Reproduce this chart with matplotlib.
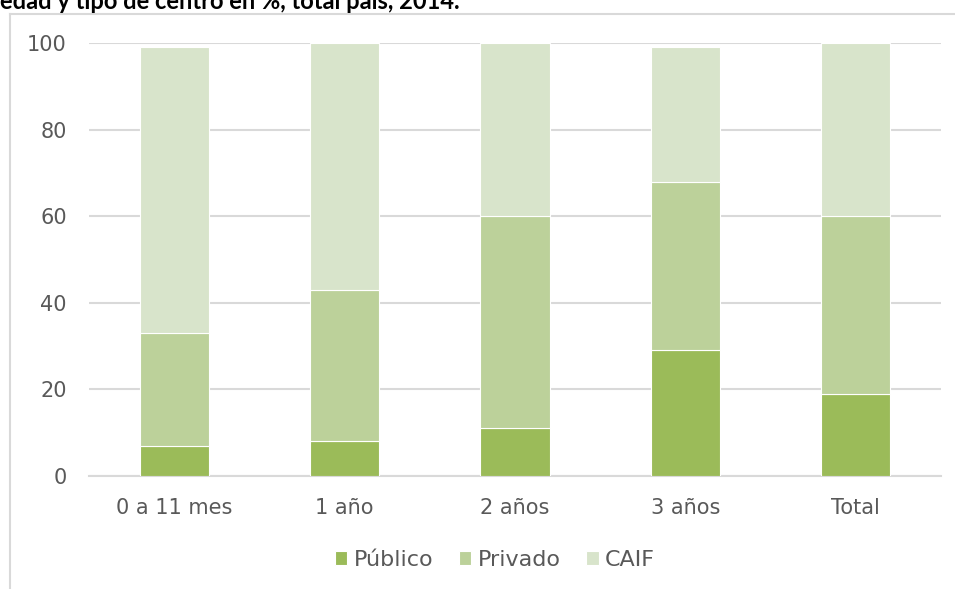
import matplotlib as mpl
mpl.use("Agg")
import matplotlib.pyplot as plt
from matplotlib.lines import Line2D
import numpy as np

categories = ["0 a 11 mes", "1 año", "2 años", "3 años", "Total"]
publico = [7, 8, 11, 29, 19]
privado = [26, 35, 49, 39, 41]
caif = [66, 57, 40, 31, 40]
series_names = ["Público", "Privado", "CAIF"]
colors = ["#9BBB59", "#BCD19A", "#D8E4CB"]
yticks = [0, 20, 40, 60, 80, 100]

plt.rcParams["font.family"] = ["DejaVu Sans"]
TXT = "#595959"

fig = plt.figure(figsize=(9.55, 5.89), dpi=100)
ax = fig.add_axes([89 / 955, 1 - 476 / 589, 852 / 955, 433 / 589])

x = np.arange(len(categories))
bottom = np.zeros(len(categories))
for name, vals, c in zip(series_names, [publico, privado, caif], colors):
    ax.bar(x, vals, 0.405, bottom=bottom, color=c, edgecolor="white", linewidth=0.8,
           label=name, zorder=3)
    bottom += np.array(vals)

ax.set_xlim(-0.5, len(categories) - 0.5)
ax.set_ylim(0, 100)
ax.set_yticks(yticks)
ax.set_xticks(x)
ax.set_xticklabels(categories)
ax.yaxis.grid(True, color="#D9D9D9", linewidth=1.5, zorder=0)
ax.set_axisbelow(True)
for s in ["top", "right", "left"]:
    ax.spines[s].set_visible(False)
ax.spines["bottom"].set_color("#D9D9D9")
ax.spines["bottom"].set_linewidth(1.5)
ax.tick_params(axis="both", length=0, labelsize=15, labelcolor=TXT)
ax.tick_params(axis="y", pad=16)
ax.tick_params(axis="x", pad=16)

ax.legend(loc="center", bbox_to_anchor=(406 / 852, -84 / 433), ncol=3, frameon=False,
          fontsize=16, labelcolor=TXT, handlelength=0.55, handleheight=0.55,
          handletextpad=0.3, columnspacing=1.15)

# outer chart frame (left and top edges visible)
fig.add_artist(Line2D([10 / 955, 10 / 955], [0, 1 - 14 / 589], color="#D9D9D9", lw=1.5,
                      transform=fig.transFigure))
fig.add_artist(Line2D([10 / 955, 1], [1 - 14 / 589, 1 - 14 / 589], color="#D9D9D9", lw=1.5,
                      transform=fig.transFigure))

fig.text(0.0, 1 - 9 / 589, "edad y tipo de centro en %, total país, 2014.",
         fontsize=17, fontweight="bold", color="black", ha="left", va="baseline",
         family="Lato")

fig.savefig("out.png", dpi=100)
